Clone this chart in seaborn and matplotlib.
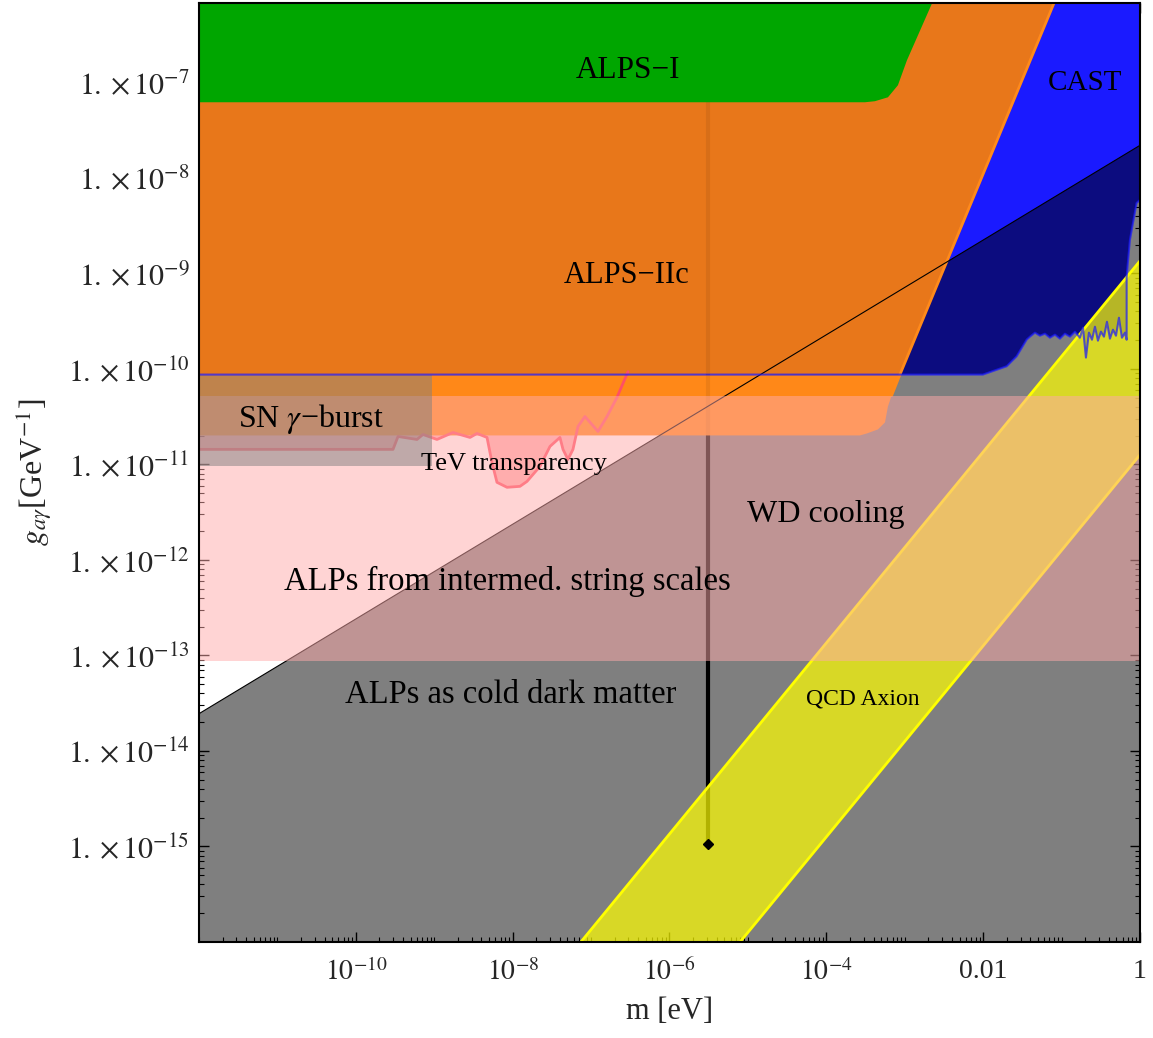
import numpy as np
import pandas as pd
import matplotlib
matplotlib.use("Agg")
import matplotlib.pyplot as plt
import seaborn as sns
from matplotlib.ticker import FixedLocator, FixedFormatter, LogLocator, NullFormatter

# all values are log10(m / eV) and log10(g / GeV^-1)
# CAST exclusion: lower boundary
cast_logm = [-12.0, -2.003, -1.700, -1.573, -1.445, -1.403, -1.339, -1.276, -1.212, -1.148,
             -1.084, -1.021, -0.957, -0.893, -0.829, -0.766, -0.727, -0.689, -0.651, -0.612,
             -0.574, -0.536, -0.498, -0.459, -0.421, -0.383, -0.344, -0.306, -0.268, -0.230,
             -0.191, -0.170, -0.170, -0.128, -0.043, 0.0]
cast_logg = [-10.06, -10.06, -9.973, -9.869, -9.694, -9.663, -9.621, -9.653, -9.632, -9.674,
             -9.642, -9.684, -9.632, -9.663, -9.611, -9.674, -9.569, -9.882, -9.621, -9.695,
             -9.559, -9.705, -9.611, -9.663, -9.507, -9.684, -9.590, -9.653, -9.465, -9.674,
             -9.621, -9.695, -9.033, -8.650, -8.264, -8.232]

# ALPS-I (green)
alps1_logm = [-12.0, -3.507, -3.380, -3.214, -3.087, -2.972, -2.653, -2.565, -12.0]
alps1_logg = [-7.209, -7.209, -7.198, -7.157, -7.031, -6.770, -6.175, -6.0, -6.0]

# ALPS-IIc (orange), part above the CAST line and part below it
alps2_up_logm = [-12.0, -3.061, -1.0, -12.0]
alps2_up_logg = [-10.06, -10.06, -5.98, -5.98]
alps2_lo_logm = [-12.0, -3.061, -3.167, -3.214, -3.252, -3.342, -3.482, -3.571, -12.0]
alps2_lo_logg = [-10.06, -10.06, -10.279, -10.394, -10.561, -10.634, -10.676, -10.697, -10.697]

# cold dark matter boundary (diagonal)
cdm_logm = [-12.0, 0.0]
cdm_logg = [-13.61, -7.66]

# string scale band and SN gamma burst box
string_logg = [-13.057, -10.279]
sn_logm = [-12.0, -9.029]
sn_logg = [-11.02, -10.06]

# TeV transparency hint
tev_logm = [-12.0, -9.526, -9.462, -9.220, -9.144, -8.965, -8.761, -8.544, -8.455, -8.327,
            -8.264, -8.200, -8.072, -7.907, -7.817, -7.652, -7.524, -7.397, -7.358, -7.295,
            -7.231, -7.167, -7.078, -6.912, -6.797, -6.670, -6.529]
tev_logg = [-10.843, -10.843, -10.708, -10.739, -10.687, -10.739, -10.666, -10.718, -10.676, -10.718,
            -10.979, -11.188, -11.240, -11.230, -11.178, -11.021, -10.812, -10.718, -10.843, -10.948,
            -10.843, -10.603, -10.499, -10.655, -10.499, -10.300, -10.029]

# QCD axion band edges
qcd_logm = [-9.0, 0.5]
qcd_lo_logg = [-19.90, -10.40]
qcd_hi_logg = [-17.87, -8.37]

# vertical line
vline_logm = -5.509
vline_logg = [-6.2, -14.99]

xtick_vals = [1e-10, 1e-8, 1e-6, 1e-4, 1e-2, 1]
xtick_labels = [r"$10^{-10}$", r"$10^{-8}$", r"$10^{-6}$", r"$10^{-4}$", "0.01", "1"]
ytick_exp = [-15, -14, -13, -12, -11, -10, -9, -8, -7]
ytick_labels = [r"$1.\times 10^{%d}$" % e for e in ytick_exp]

labels = ["ALPS\u2212I", "ALPS\u2212IIc", "CAST", "SN $\\gamma$\u2212burst", "TeV transparency",
          "WD cooling", "ALPs from intermed. string scales", "ALPs as cold dark matter", "QCD Axion"]
label_logm = [-6.529, -6.542, -0.702, -10.572, -7.983, -4.005, -8.072, -8.021, -3.533]
label_logg = [-6.875, -9.026, -7.010, -10.530, -11.000, -11.522, -12.222, -13.413, -13.454]
label_size = [22.5, 22, 21, 23, 19, 23, 23.5, 23.5, 17]


def p(v):
    return 10.0 ** np.asarray(v, dtype=float)


sns.set_style("ticks")
plt.rcParams["font.family"] = ["Liberation Serif", "DejaVu Serif"]
plt.rcParams["mathtext.fontset"] = "stix"

fig = plt.figure(figsize=(11.53, 10.38), dpi=100)
ax = fig.add_axes([0.1726, 0.0925, 0.8161, 0.9046])
ax.set_xscale("log")
ax.set_yscale("log")
ax.set_facecolor("white")

# CAST
cx = list(cast_logm) + [0.0, -12.0]
cy = list(cast_logg) + [-5.9, -5.9]
ax.fill(p(cx), p(cy), color="#1a1aff", lw=0, zorder=1)

# cold dark matter region
ax.fill(p(cdm_logm + [0.0, -12.0]), p(cdm_logg + [-16.5, -16.5]), color="black", alpha=0.5, lw=0, zorder=2)

# vertical line
ax.plot(p([vline_logm, vline_logm]), p(vline_logg), color="black", lw=3, zorder=2.5, solid_capstyle="butt")

# QCD axion band
ax.fill_between(p(qcd_logm), p(qcd_lo_logg), p(qcd_hi_logg), color="#ffff00", alpha=0.7, lw=0, zorder=3)
ax.plot(p(qcd_logm), p(qcd_lo_logg), color="#ffff00", lw=2, zorder=3.1)
ax.plot(p(qcd_logm), p(qcd_hi_logg), color="#ffff00", lw=2, zorder=3.1)

# TeV transparency fill
ax.fill(p(tev_logm + [-12.0]), p(tev_logg + [-10.06]), color="#ff6464", alpha=0.5, lw=0, zorder=3.5)

# ALPS-IIc
ax.fill(p(alps2_up_logm), p(alps2_up_logg), color="#e8771a", lw=0, zorder=4)
ax.fill(p(alps2_lo_logm), p(alps2_lo_logg), color="#ff8818", lw=0, zorder=4)
ax.plot(p([-1.0, -3.061, -3.167]), p([-5.98, -10.06, -10.279]), color="#ff8a1a", lw=2, zorder=4.2)
# the vertical line shows faintly through the orange
ax.plot(p([vline_logm, vline_logm]), p([-6.2, -10.697]), color="black", lw=3, alpha=0.07,
        zorder=4.3, solid_capstyle="butt")

# ALPS-I
ax.fill(p(alps1_logm), p(alps1_logg), color="#00a600", lw=0, zorder=4.5)

# diagonal and TeV line
df_cdm = pd.DataFrame({"m": p(cdm_logm), "g": p(cdm_logg)})
sns.lineplot(data=df_cdm, x="m", y="g", color="black", lw=0.8, sort=False, estimator=None, ax=ax, zorder=5)
df_tev = pd.DataFrame({"m": p(tev_logm), "g": p(tev_logg)})
sns.lineplot(data=df_tev, x="m", y="g", color="#ff5064", lw=2, sort=False, estimator=None, ax=ax, zorder=5)

# string scales band
ax.axhspan(p(string_logg[0]), p(string_logg[1]), color="#ffaaaa", alpha=0.5, lw=0, zorder=6)

# SN gamma burst
ax.fill_between(p(sn_logm), p(sn_logg[0]), p(sn_logg[1]), color="#808080", alpha=0.5, lw=0, zorder=7)

# CAST outline
df_cast = pd.DataFrame({"m": p(cast_logm), "g": p(cast_logg)})
sns.lineplot(data=df_cast, x="m", y="g", color="#1a1aff", lw=1.5, alpha=0.7, sort=False, estimator=None,
             ax=ax, zorder=8)

ax.plot([p(vline_logm)], [p(-14.97)], marker="D", color="black", ms=5, zorder=9)

for t, lm, lg, s in zip(labels, label_logm, label_logg, label_size):
    ax.text(p(lm), p(lg), t, ha="center", va="center", fontsize=s, color="black", zorder=10)

ax.set_xlim(1e-12, 1)
ax.set_ylim(1e-16, 10 ** -6.17)

ax.xaxis.set_major_locator(FixedLocator(xtick_vals))
ax.xaxis.set_major_formatter(FixedFormatter(xtick_labels))
ax.xaxis.set_minor_locator(LogLocator(base=10, subs=np.arange(1, 10), numticks=100))
ax.xaxis.set_minor_formatter(NullFormatter())
ax.yaxis.set_major_locator(FixedLocator(p(ytick_exp)))
ax.yaxis.set_major_formatter(FixedFormatter(ytick_labels))
ax.yaxis.set_minor_locator(LogLocator(base=10, subs=np.arange(2, 10), numticks=100))
ax.yaxis.set_minor_formatter(NullFormatter())

ax.tick_params(which="both", direction="in", top=True, right=True, color="black")
ax.tick_params(which="major", length=7, width=1)
ax.tick_params(which="minor", length=3.5, width=0.8)
ax.tick_params(axis="x", which="major", pad=12, labelsize=20)
ax.tick_params(axis="y", which="major", pad=7, labelsize=21.5)

for s in ax.spines.values():
    s.set_color("black")
    s.set_linewidth(1.5)
    s.set_zorder(11)

ax.set_xlabel("m [eV]", fontsize=22, labelpad=8)
ax.set_ylabel(r"$g_{a\gamma}$[GeV$^{-1}$]", fontsize=23, labelpad=10)

fig.savefig("out.png", dpi=100)
